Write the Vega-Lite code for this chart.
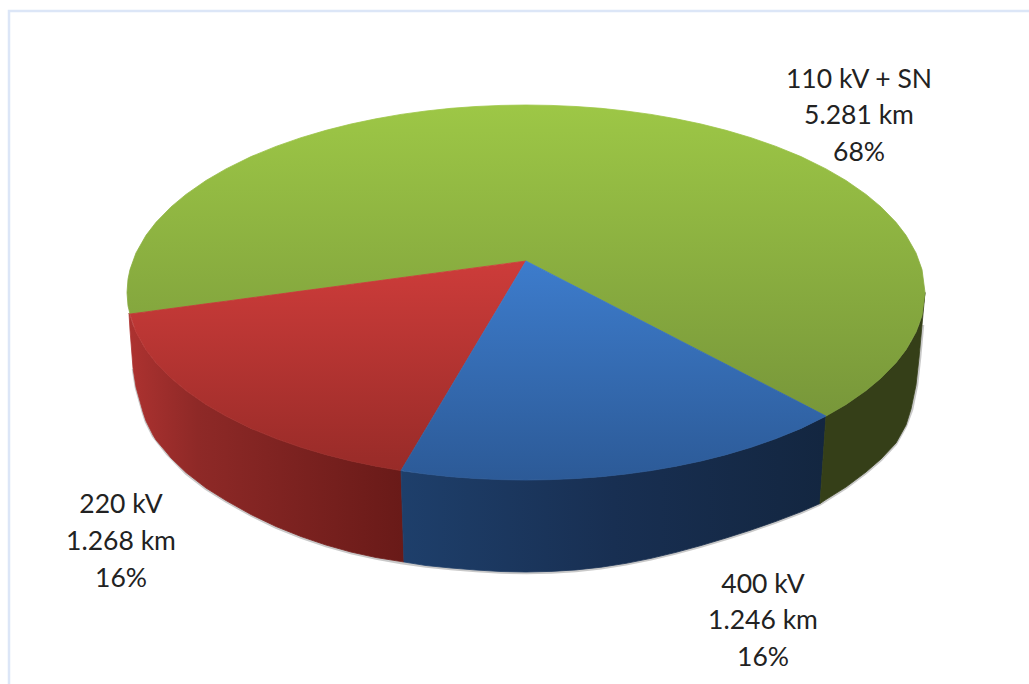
{"$schema":"https://vega.github.io/schema/vega-lite/v6.json","width":1029,"height":684,"padding":0,"autosize":{"type":"fit","contains":"padding"},"background":"white","config":{"view":{"stroke":null}},
"datasets":{
"frame":[{"x":9,"y":684},{"x":9,"y":11},{"x":1029,"y":11}],
"shadow":[{"x":133,"y":369},{"x":136,"y":388},{"x":143,"y":413},{"x":146,"y":422},{"x":153,"y":436},{"x":167,"y":454},{"x":186,"y":473.5},{"x":206,"y":489},{"x":226,"y":501.5},{"x":251,"y":515.5},{"x":276,"y":527.5},{"x":301,"y":537.5},{"x":326,"y":546},{"x":351,"y":553},{"x":376,"y":558.5},{"x":401,"y":563},{"x":426,"y":566.5},{"x":451,"y":569},{"x":476,"y":571},{"x":501,"y":572.5},{"x":526,"y":573},{"x":551,"y":572.4},{"x":576,"y":570.9},{"x":601,"y":568.2},{"x":626,"y":564.3},{"x":651,"y":559.3},{"x":676,"y":553.3},{"x":701,"y":546.5},{"x":726,"y":539},{"x":751,"y":531},{"x":776,"y":522.3},{"x":801,"y":512.8},{"x":820,"y":504.5},{"x":846,"y":488},{"x":866,"y":473},{"x":881,"y":460},{"x":896,"y":444},{"x":906,"y":426},{"x":912,"y":410},{"x":917,"y":385},{"x":920,"y":358},{"x":923,"y":325}],
"redSide":[{"x":129,"y":313,"y2":313},{"x":130,"y":315.4,"y2":330},{"x":133,"y":324.9,"y2":368},{"x":136,"y":332.1,"y2":387},{"x":143,"y":345,"y2":412},{"x":146,"y":349.7,"y2":421},{"x":153,"y":359.1,"y2":435},{"x":156,"y":362.7,"y2":440},{"x":167,"y":374.3,"y2":453},{"x":171,"y":378.1,"y2":458},{"x":186,"y":390.6,"y2":472.5},{"x":206,"y":404.5,"y2":488},{"x":226,"y":416.1,"y2":500.5},{"x":251,"y":428.4,"y2":514.5},{"x":276,"y":438.6,"y2":526.5},{"x":301,"y":447.3,"y2":536.5},{"x":326,"y":454.7,"y2":545},{"x":351,"y":461,"y2":552},{"x":376,"y":466.2,"y2":557.5},{"x":401,"y":470.6,"y2":561.5},{"x":404,"y":562,"y2":562}],
"blueSide":[{"x":401,"y":470.6,"y2":470.6},{"x":404,"y":471.2,"y2":562},{"x":426,"y":474,"y2":565.5},{"x":451,"y":476.7,"y2":568},{"x":476,"y":478.5,"y2":570},{"x":501,"y":479.6,"y2":571.5},{"x":526,"y":480,"y2":572},{"x":551,"y":479.6,"y2":571.4},{"x":576,"y":478.5,"y2":569.9},{"x":601,"y":476.7,"y2":567.2},{"x":626,"y":474,"y2":563.3},{"x":651,"y":470.6,"y2":558.3},{"x":676,"y":466.2,"y2":552.3},{"x":701,"y":461,"y2":545.5},{"x":726,"y":454.7,"y2":538},{"x":751,"y":447.3,"y2":530},{"x":776,"y":438.6,"y2":521.3},{"x":801,"y":428.4,"y2":511.8},{"x":820,"y":419,"y2":503.5},{"x":826,"y":416.1,"y2":416.1}],
"greenSide":[{"x":820,"y":503.5,"y2":503.5},{"x":826,"y":416.1,"y2":499.5},{"x":846,"y":404.5,"y2":487},{"x":866,"y":390.6,"y2":472},{"x":881,"y":378.1,"y2":459},{"x":896,"y":362.7,"y2":443},{"x":906,"y":349.7,"y2":425},{"x":911,"y":341.7,"y2":409},{"x":916,"y":332.1,"y2":385},{"x":919,"y":324.9,"y2":358},{"x":922,"y":315.4,"y2":325},{"x":925,"y":292.5,"y2":292.5}],
"greenFace":[{"x":127,"y":292.5,"y2":292.5},{"x":128,"y":279.2,"y2":305.8},{"x":130,"y":269.6,"y2":314},{"x":136,"y":252.9,"y2":313.2},{"x":146,"y":235.3,"y2":311.9},{"x":156,"y":222.3,"y2":310.5},{"x":171,"y":206.9,"y2":308.5},{"x":186,"y":194.4,"y2":306.5},{"x":206,"y":180.5,"y2":303.8},{"x":226,"y":168.9,"y2":301.2},{"x":251,"y":156.6,"y2":297.8},{"x":276,"y":146.4,"y2":294.5},{"x":301,"y":137.7,"y2":291.1},{"x":326,"y":130.3,"y2":287.8},{"x":351,"y":124,"y2":284.4},{"x":376,"y":118.8,"y2":281.1},{"x":401,"y":114.4,"y2":277.7},{"x":426,"y":111,"y2":274.4},{"x":451,"y":108.3,"y2":271},{"x":476,"y":106.5,"y2":267.7},{"x":501,"y":105.4,"y2":264.3},{"x":526,"y":105,"y2":261},{"x":551,"y":105.4,"y2":273.9},{"x":576,"y":106.5,"y2":286.8},{"x":601,"y":108.3,"y2":299.8},{"x":626,"y":111,"y2":312.7},{"x":651,"y":114.4,"y2":325.6},{"x":676,"y":118.8,"y2":338.5},{"x":701,"y":124,"y2":351.4},{"x":726,"y":130.3,"y2":364.3},{"x":751,"y":137.7,"y2":377.3},{"x":776,"y":146.4,"y2":390.2},{"x":801,"y":156.6,"y2":403.1},{"x":826,"y":168.9,"y2":416.1},{"x":846,"y":180.5,"y2":404.5},{"x":866,"y":194.4,"y2":390.6},{"x":881,"y":206.9,"y2":378.1},{"x":896,"y":222.3,"y2":362.7},{"x":906,"y":235.3,"y2":349.7},{"x":916,"y":252.9,"y2":332.1},{"x":922,"y":269.6,"y2":315.4},{"x":925,"y":292.5,"y2":292.5}],
"redFace":[{"x":130,"y":314,"y2":314},{"x":136,"y":313.2,"y2":332.1},{"x":146,"y":311.9,"y2":349.7},{"x":156,"y":310.5,"y2":362.7},{"x":171,"y":308.5,"y2":378.1},{"x":186,"y":306.5,"y2":390.6},{"x":206,"y":303.8,"y2":404.5},{"x":226,"y":301.2,"y2":416.1},{"x":251,"y":297.8,"y2":428.4},{"x":276,"y":294.5,"y2":438.6},{"x":301,"y":291.1,"y2":447.3},{"x":326,"y":287.8,"y2":454.7},{"x":351,"y":284.4,"y2":461},{"x":376,"y":281.1,"y2":466.2},{"x":401,"y":277.7,"y2":470.6},{"x":526,"y":261,"y2":261}],
"blueFace":[{"x":401,"y":470.6,"y2":470.6},{"x":426,"y":428.7,"y2":474},{"x":451,"y":386.8,"y2":476.7},{"x":476,"y":344.8,"y2":478.5},{"x":501,"y":302.9,"y2":479.6},{"x":526,"y":261,"y2":480},{"x":551,"y":273.9,"y2":479.6},{"x":576,"y":286.8,"y2":478.5},{"x":601,"y":299.8,"y2":476.7},{"x":626,"y":312.7,"y2":474},{"x":651,"y":325.6,"y2":470.6},{"x":676,"y":338.5,"y2":466.2},{"x":701,"y":351.4,"y2":461},{"x":726,"y":364.3,"y2":454.7},{"x":751,"y":377.3,"y2":447.3},{"x":776,"y":390.2,"y2":438.6},{"x":801,"y":403.1,"y2":428.4},{"x":826,"y":416.1,"y2":416.1}],
"labels":[{"series":"110 kV + SN","km":5281,"share":68,"line":"110 kV + SN","x":859,"y":88},{"series":"110 kV + SN","km":5281,"share":68,"line":"5.281 km","x":859,"y":124},{"series":"110 kV + SN","km":5281,"share":68,"line":"68%","x":859,"y":161},{"series":"220 kV","km":1268,"share":16,"line":"220 kV","x":121,"y":513},{"series":"220 kV","km":1268,"share":16,"line":"1.268 km","x":121,"y":550},{"series":"220 kV","km":1268,"share":16,"line":"16%","x":121,"y":587},{"series":"400 kV","km":1246,"share":16,"line":"400 kV","x":763,"y":593},{"series":"400 kV","km":1246,"share":16,"line":"1.246 km","x":763,"y":629},{"series":"400 kV","km":1246,"share":16,"line":"16%","x":763,"y":666}]
},
"encoding":{"x":{"field":"x","type":"quantitative","scale":{"domain":[0,1029],"range":[0,1029],"nice":false,"zero":false},"axis":null},"y":{"field":"y","type":"quantitative","scale":{"domain":[684,0],"range":[684,0],"nice":false,"zero":false},"axis":null}},
"layer":[
{"data":{"name":"frame"},"mark":{"type":"line","stroke":"#DCE6F7","strokeWidth":2.5,"clip":false}},
{"data":{"name":"shadow"},"mark":{"type":"line","stroke":"#777777","strokeWidth":2.5,"opacity":0.4}},
{"data":{"name":"redSide"},"mark":{"type":"area","orient":"vertical","strokeWidth":0.8,"stroke":{"gradient":"linear","x1":0,"y1":0,"x2":1,"y2":0,"stops":[{"offset":0,"color":"#AD3230"},{"offset":0.25,"color":"#8E2927"},{"offset":0.6,"color":"#7C2220"},{"offset":1,"color":"#691A18"}]},"fill":{"gradient":"linear","x1":0,"y1":0,"x2":1,"y2":0,"stops":[{"offset":0,"color":"#AD3230"},{"offset":0.25,"color":"#8E2927"},{"offset":0.6,"color":"#7C2220"},{"offset":1,"color":"#691A18"}]}},"encoding":{"y2":{"field":"y2"}}},
{"data":{"name":"blueSide"},"mark":{"type":"area","orient":"vertical","strokeWidth":0.8,"stroke":{"gradient":"linear","x1":0,"y1":0,"x2":1,"y2":0,"stops":[{"offset":0,"color":"#1E3F6B"},{"offset":0.5,"color":"#182F52"},{"offset":1,"color":"#132640"}]},"fill":{"gradient":"linear","x1":0,"y1":0,"x2":1,"y2":0,"stops":[{"offset":0,"color":"#1E3F6B"},{"offset":0.5,"color":"#182F52"},{"offset":1,"color":"#132640"}]}},"encoding":{"y2":{"field":"y2"}}},
{"data":{"name":"greenSide"},"mark":{"type":"area","orient":"vertical","strokeWidth":0.8,"stroke":"#353F18","fill":"#353F18"},"encoding":{"y2":{"field":"y2"}}},
{"data":{"name":"greenFace"},"mark":{"type":"area","orient":"vertical","strokeWidth":0.8,"stroke":{"gradient":"linear","x1":0,"y1":0,"x2":0,"y2":1,"stops":[{"offset":0,"color":"#9DC746"},{"offset":1,"color":"#78973A"}]},"fill":{"gradient":"linear","x1":0,"y1":0,"x2":0,"y2":1,"stops":[{"offset":0,"color":"#9DC746"},{"offset":1,"color":"#78973A"}]}},"encoding":{"y2":{"field":"y2"}}},
{"data":{"name":"redFace"},"mark":{"type":"area","orient":"vertical","strokeWidth":0.8,"stroke":{"gradient":"linear","x1":0,"y1":0,"x2":0,"y2":1,"stops":[{"offset":0,"color":"#CD3C3A"},{"offset":1,"color":"#982B28"}]},"fill":{"gradient":"linear","x1":0,"y1":0,"x2":0,"y2":1,"stops":[{"offset":0,"color":"#CD3C3A"},{"offset":1,"color":"#982B28"}]}},"encoding":{"y2":{"field":"y2"}}},
{"data":{"name":"blueFace"},"mark":{"type":"area","orient":"vertical","strokeWidth":0.8,"stroke":{"gradient":"linear","x1":0,"y1":0,"x2":0,"y2":1,"stops":[{"offset":0,"color":"#3D7CCC"},{"offset":1,"color":"#2C5A97"}]},"fill":{"gradient":"linear","x1":0,"y1":0,"x2":0,"y2":1,"stops":[{"offset":0,"color":"#3D7CCC"},{"offset":1,"color":"#2C5A97"}]}},"encoding":{"y2":{"field":"y2"}}},
{"data":{"name":"labels"},"mark":{"type":"text","font":"Lato","fontSize":26.5,"align":"center","baseline":"alphabetic","color":"#222222"},"encoding":{"text":{"field":"line","type":"nominal"}}}
]}
